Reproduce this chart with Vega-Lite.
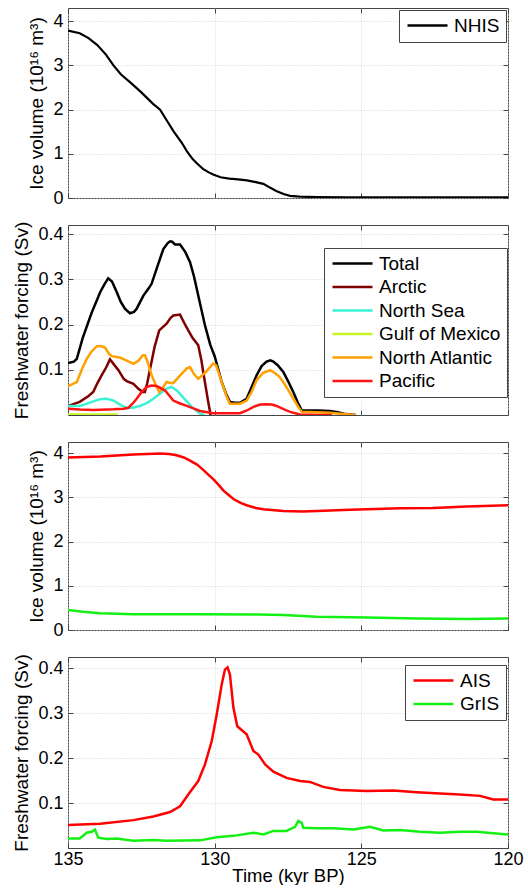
{
  "$schema": "https://vega.github.io/schema/vega-lite/v6.json",
  "background": "white",
  "padding": {"left": 12, "top": 7, "right": 0, "bottom": 0},
  "config": {
    "font": "Liberation Sans",
    "view": {"stroke": "#444", "strokeWidth": 1},
    "axis": {
      "labelFont": "Liberation Sans", "labelFontSize": 18, "labelColor": "black",
      "titleFont": "Liberation Sans", "titleFontSize": 19, "titleFontWeight": "normal", "titleColor": "black",
      "domain": false, "tickColor": "#444", "tickSize": -5, "labelPadding": 10,
      "gridColor": "#d4d4d4", "gridDash": [1, 2], "gridWidth": 1,
      "labelFlush": false, "labelOverlap": false, "titlePadding": 6
    },
    "legend": {
      "title": null, "orient": "none", "fillColor": "white", "strokeColor": "#444",
      "padding": 6, "labelFont": "Liberation Sans", "labelFontSize": 19, "labelColor": "black",
      "symbolType": "M-1.4,0H6.6", "symbolSize": 100, "symbolStrokeWidth": 2.5, "labelOffset": 30,
      "rowPadding": 3.5, "cornerRadius": 0
    }
  },
  "datasets": {
    "nhis": [
      {"t": 135, "v": 3.79}, {"t": 134.6, "v": 3.73}, {"t": 134.3, "v": 3.62}, {"t": 134.0, "v": 3.46},
      {"t": 133.7, "v": 3.24}, {"t": 133.45, "v": 3.0}, {"t": 133.2, "v": 2.8}, {"t": 132.8, "v": 2.57},
      {"t": 132.5, "v": 2.39}, {"t": 132.3, "v": 2.26}, {"t": 132.1, "v": 2.13}, {"t": 131.86, "v": 2.0},
      {"t": 131.6, "v": 1.72}, {"t": 131.4, "v": 1.51}, {"t": 131.12, "v": 1.25}, {"t": 130.95, "v": 1.06},
      {"t": 130.75, "v": 0.88}, {"t": 130.6, "v": 0.78}, {"t": 130.4, "v": 0.66}, {"t": 130.2, "v": 0.58},
      {"t": 130.05, "v": 0.53}, {"t": 129.8, "v": 0.47}, {"t": 129.5, "v": 0.44}, {"t": 129.2, "v": 0.42},
      {"t": 128.9, "v": 0.40}, {"t": 128.6, "v": 0.36}, {"t": 128.34, "v": 0.32}, {"t": 128.1, "v": 0.23},
      {"t": 127.9, "v": 0.16}, {"t": 127.65, "v": 0.09}, {"t": 127.43, "v": 0.05}, {"t": 127.1, "v": 0.03},
      {"t": 126.5, "v": 0.02}, {"t": 125.5, "v": 0.015}, {"t": 124, "v": 0.012}, {"t": 122, "v": 0.012},
      {"t": 120, "v": 0.015}
    ],
    "regions": [
      {"s": "Total", "t": 135, "v": 0.115}, {"s": "Total", "t": 134.8, "v": 0.118}, {"s": "Total", "t": 134.7, "v": 0.124},
      {"s": "Total", "t": 134.5, "v": 0.17}, {"s": "Total", "t": 134.2, "v": 0.225}, {"s": "Total", "t": 133.9, "v": 0.272},
      {"s": "Total", "t": 133.75, "v": 0.29}, {"s": "Total", "t": 133.63, "v": 0.302}, {"s": "Total", "t": 133.5, "v": 0.295},
      {"s": "Total", "t": 133.34, "v": 0.272}, {"s": "Total", "t": 133.2, "v": 0.25}, {"s": "Total", "t": 133.06, "v": 0.235},
      {"s": "Total", "t": 132.89, "v": 0.225}, {"s": "Total", "t": 132.75, "v": 0.228}, {"s": "Total", "t": 132.66, "v": 0.235},
      {"s": "Total", "t": 132.43, "v": 0.264}, {"s": "Total", "t": 132.25, "v": 0.28}, {"s": "Total", "t": 132.15, "v": 0.29},
      {"s": "Total", "t": 131.98, "v": 0.323}, {"s": "Total", "t": 131.75, "v": 0.367}, {"s": "Total", "t": 131.6, "v": 0.38},
      {"s": "Total", "t": 131.52, "v": 0.384}, {"s": "Total", "t": 131.45, "v": 0.383}, {"s": "Total", "t": 131.35, "v": 0.377},
      {"s": "Total", "t": 131.18, "v": 0.377}, {"s": "Total", "t": 131.0, "v": 0.36}, {"s": "Total", "t": 130.84, "v": 0.338},
      {"s": "Total", "t": 130.7, "v": 0.305}, {"s": "Total", "t": 130.56, "v": 0.264}, {"s": "Total", "t": 130.33, "v": 0.198},
      {"s": "Total", "t": 130.15, "v": 0.155}, {"s": "Total", "t": 130.0, "v": 0.13}, {"s": "Total", "t": 129.76, "v": 0.073},
      {"s": "Total", "t": 129.6, "v": 0.045}, {"s": "Total", "t": 129.48, "v": 0.029}, {"s": "Total", "t": 129.3, "v": 0.027},
      {"s": "Total", "t": 129.14, "v": 0.027}, {"s": "Total", "t": 128.91, "v": 0.036}, {"s": "Total", "t": 128.75, "v": 0.06},
      {"s": "Total", "t": 128.57, "v": 0.088}, {"s": "Total", "t": 128.4, "v": 0.108}, {"s": "Total", "t": 128.23, "v": 0.118},
      {"s": "Total", "t": 128.1, "v": 0.121}, {"s": "Total", "t": 128.0, "v": 0.118}, {"s": "Total", "t": 127.85, "v": 0.11},
      {"s": "Total", "t": 127.66, "v": 0.095}, {"s": "Total", "t": 127.5, "v": 0.075}, {"s": "Total", "t": 127.32, "v": 0.051},
      {"s": "Total", "t": 127.15, "v": 0.025}, {"s": "Total", "t": 127.03, "v": 0.01}, {"s": "Total", "t": 126.5, "v": 0.01},
      {"s": "Total", "t": 126.07, "v": 0.009}, {"s": "Total", "t": 125.8, "v": 0.006}, {"s": "Total", "t": 125.6, "v": 0.003},
      {"s": "Total", "t": 125.2, "v": 0.0},

      {"s": "Arctic", "t": 135, "v": 0.020}, {"s": "Arctic", "t": 134.6, "v": 0.029}, {"s": "Arctic", "t": 134.3, "v": 0.042},
      {"s": "Arctic", "t": 134.14, "v": 0.051}, {"s": "Arctic", "t": 134.0, "v": 0.07}, {"s": "Arctic", "t": 133.85, "v": 0.088},
      {"s": "Arctic", "t": 133.7, "v": 0.105}, {"s": "Arctic", "t": 133.57, "v": 0.123}, {"s": "Arctic", "t": 133.45, "v": 0.113},
      {"s": "Arctic", "t": 133.28, "v": 0.099}, {"s": "Arctic", "t": 133.1, "v": 0.08}, {"s": "Arctic", "t": 133.0, "v": 0.075},
      {"s": "Arctic", "t": 132.77, "v": 0.069}, {"s": "Arctic", "t": 132.6, "v": 0.058}, {"s": "Arctic", "t": 132.45, "v": 0.051},
      {"s": "Arctic", "t": 132.38, "v": 0.051}, {"s": "Arctic", "t": 132.3, "v": 0.07}, {"s": "Arctic", "t": 132.2, "v": 0.102},
      {"s": "Arctic", "t": 132.05, "v": 0.15}, {"s": "Arctic", "t": 131.89, "v": 0.187}, {"s": "Arctic", "t": 131.64, "v": 0.202},
      {"s": "Arctic", "t": 131.5, "v": 0.215}, {"s": "Arctic", "t": 131.41, "v": 0.220}, {"s": "Arctic", "t": 131.18, "v": 0.222},
      {"s": "Arctic", "t": 131.05, "v": 0.205}, {"s": "Arctic", "t": 130.9, "v": 0.187}, {"s": "Arctic", "t": 130.75, "v": 0.17},
      {"s": "Arctic", "t": 130.56, "v": 0.154}, {"s": "Arctic", "t": 130.45, "v": 0.12}, {"s": "Arctic", "t": 130.39, "v": 0.095},
      {"s": "Arctic", "t": 130.22, "v": 0.029}, {"s": "Arctic", "t": 130.14, "v": 0.0},

      {"s": "North Sea", "t": 135, "v": 0.020}, {"s": "North Sea", "t": 134.6, "v": 0.020}, {"s": "North Sea", "t": 134.4, "v": 0.024},
      {"s": "North Sea", "t": 134.14, "v": 0.030}, {"s": "North Sea", "t": 133.9, "v": 0.035}, {"s": "North Sea", "t": 133.68, "v": 0.036},
      {"s": "North Sea", "t": 133.5, "v": 0.033}, {"s": "North Sea", "t": 133.4, "v": 0.030}, {"s": "North Sea", "t": 133.2, "v": 0.022},
      {"s": "North Sea", "t": 133.0, "v": 0.016}, {"s": "North Sea", "t": 132.8, "v": 0.016}, {"s": "North Sea", "t": 132.55, "v": 0.020},
      {"s": "North Sea", "t": 132.3, "v": 0.027}, {"s": "North Sea", "t": 132.09, "v": 0.036}, {"s": "North Sea", "t": 131.85, "v": 0.048},
      {"s": "North Sea", "t": 131.64, "v": 0.058}, {"s": "North Sea", "t": 131.47, "v": 0.062}, {"s": "North Sea", "t": 131.3, "v": 0.055},
      {"s": "North Sea", "t": 131.13, "v": 0.043}, {"s": "North Sea", "t": 130.95, "v": 0.03}, {"s": "North Sea", "t": 130.78, "v": 0.018},
      {"s": "North Sea", "t": 130.6, "v": 0.008}, {"s": "North Sea", "t": 130.5, "v": 0.003}, {"s": "North Sea", "t": 130.35, "v": 0.0},

      {"s": "Gulf of Mexico", "t": 135, "v": 0.001}, {"s": "Gulf of Mexico", "t": 134.2, "v": 0.001}, {"s": "Gulf of Mexico", "t": 133.3, "v": 0.001},

      {"s": "North Atlantic", "t": 135, "v": 0.064}, {"s": "North Atlantic", "t": 134.85, "v": 0.068}, {"s": "North Atlantic", "t": 134.7, "v": 0.073},
      {"s": "North Atlantic", "t": 134.5, "v": 0.105}, {"s": "North Atlantic", "t": 134.36, "v": 0.124}, {"s": "North Atlantic", "t": 134.2, "v": 0.14},
      {"s": "North Atlantic", "t": 134.02, "v": 0.152}, {"s": "North Atlantic", "t": 133.85, "v": 0.152}, {"s": "North Atlantic", "t": 133.74, "v": 0.149},
      {"s": "North Atlantic", "t": 133.6, "v": 0.135}, {"s": "North Atlantic", "t": 133.51, "v": 0.130}, {"s": "North Atlantic", "t": 133.23, "v": 0.127},
      {"s": "North Atlantic", "t": 133.0, "v": 0.12}, {"s": "North Atlantic", "t": 132.77, "v": 0.113}, {"s": "North Atlantic", "t": 132.6, "v": 0.12},
      {"s": "North Atlantic", "t": 132.45, "v": 0.132}, {"s": "North Atlantic", "t": 132.38, "v": 0.132}, {"s": "North Atlantic", "t": 132.3, "v": 0.12},
      {"s": "North Atlantic", "t": 132.15, "v": 0.088}, {"s": "North Atlantic", "t": 132.0, "v": 0.065}, {"s": "North Atlantic", "t": 131.89, "v": 0.051},
      {"s": "North Atlantic", "t": 131.75, "v": 0.062}, {"s": "North Atlantic", "t": 131.64, "v": 0.073}, {"s": "North Atlantic", "t": 131.5, "v": 0.071},
      {"s": "North Atlantic", "t": 131.41, "v": 0.071}, {"s": "North Atlantic", "t": 131.25, "v": 0.082}, {"s": "North Atlantic", "t": 131.13, "v": 0.091},
      {"s": "North Atlantic", "t": 130.95, "v": 0.103}, {"s": "North Atlantic", "t": 130.84, "v": 0.106}, {"s": "North Atlantic", "t": 130.7, "v": 0.09},
      {"s": "North Atlantic", "t": 130.56, "v": 0.080}, {"s": "North Atlantic", "t": 130.3, "v": 0.095}, {"s": "North Atlantic", "t": 130.05, "v": 0.114},
      {"s": "North Atlantic", "t": 129.95, "v": 0.11}, {"s": "North Atlantic", "t": 129.76, "v": 0.073}, {"s": "North Atlantic", "t": 129.6, "v": 0.042},
      {"s": "North Atlantic", "t": 129.48, "v": 0.025}, {"s": "North Atlantic", "t": 129.14, "v": 0.025}, {"s": "North Atlantic", "t": 128.91, "v": 0.032},
      {"s": "North Atlantic", "t": 128.75, "v": 0.05}, {"s": "North Atlantic", "t": 128.57, "v": 0.077}, {"s": "North Atlantic", "t": 128.35, "v": 0.093},
      {"s": "North Atlantic", "t": 128.11, "v": 0.099}, {"s": "North Atlantic", "t": 127.95, "v": 0.093}, {"s": "North Atlantic", "t": 127.8, "v": 0.085},
      {"s": "North Atlantic", "t": 127.66, "v": 0.073}, {"s": "North Atlantic", "t": 127.5, "v": 0.056}, {"s": "North Atlantic", "t": 127.32, "v": 0.036},
      {"s": "North Atlantic", "t": 127.15, "v": 0.018}, {"s": "North Atlantic", "t": 127.03, "v": 0.007}, {"s": "North Atlantic", "t": 126.07, "v": 0.005},
      {"s": "North Atlantic", "t": 125.6, "v": 0.002}, {"s": "North Atlantic", "t": 125.2, "v": 0.0},

      {"s": "Pacific", "t": 135, "v": 0.014}, {"s": "Pacific", "t": 134.6, "v": 0.012}, {"s": "Pacific", "t": 134.14, "v": 0.011},
      {"s": "Pacific", "t": 133.45, "v": 0.0125}, {"s": "Pacific", "t": 133.1, "v": 0.014}, {"s": "Pacific", "t": 132.94, "v": 0.016},
      {"s": "Pacific", "t": 132.8, "v": 0.025}, {"s": "Pacific", "t": 132.66, "v": 0.036}, {"s": "Pacific", "t": 132.5, "v": 0.05},
      {"s": "Pacific", "t": 132.32, "v": 0.062}, {"s": "Pacific", "t": 132.15, "v": 0.065}, {"s": "Pacific", "t": 131.98, "v": 0.064},
      {"s": "Pacific", "t": 131.85, "v": 0.06}, {"s": "Pacific", "t": 131.69, "v": 0.054}, {"s": "Pacific", "t": 131.55, "v": 0.043},
      {"s": "Pacific", "t": 131.41, "v": 0.032}, {"s": "Pacific", "t": 131.2, "v": 0.026}, {"s": "Pacific", "t": 130.95, "v": 0.020},
      {"s": "Pacific", "t": 130.7, "v": 0.014}, {"s": "Pacific", "t": 130.5, "v": 0.009}, {"s": "Pacific", "t": 130.25, "v": 0.006},
      {"s": "Pacific", "t": 130.05, "v": 0.004}, {"s": "Pacific", "t": 129.6, "v": 0.004}, {"s": "Pacific", "t": 129.14, "v": 0.004},
      {"s": "Pacific", "t": 128.9, "v": 0.01}, {"s": "Pacific", "t": 128.68, "v": 0.018}, {"s": "Pacific", "t": 128.45, "v": 0.023},
      {"s": "Pacific", "t": 128.23, "v": 0.024}, {"s": "Pacific", "t": 128.05, "v": 0.023}, {"s": "Pacific", "t": 127.89, "v": 0.020},
      {"s": "Pacific", "t": 127.65, "v": 0.013}, {"s": "Pacific", "t": 127.43, "v": 0.007}, {"s": "Pacific", "t": 127.09, "v": 0.001},
      {"s": "Pacific", "t": 126.5, "v": 0.0}, {"s": "Pacific", "t": 126.0, "v": 0.0}
    ],
    "icevol": [
      {"s": "AIS", "t": 135, "v": 3.90}, {"s": "AIS", "t": 133.9, "v": 3.92}, {"s": "AIS", "t": 132.77, "v": 3.97},
      {"s": "AIS", "t": 131.86, "v": 3.99}, {"s": "AIS", "t": 131.55, "v": 3.98}, {"s": "AIS", "t": 131.3, "v": 3.95},
      {"s": "AIS", "t": 131.05, "v": 3.9}, {"s": "AIS", "t": 130.84, "v": 3.83}, {"s": "AIS", "t": 130.6, "v": 3.74},
      {"s": "AIS", "t": 130.39, "v": 3.62}, {"s": "AIS", "t": 130.2, "v": 3.5}, {"s": "AIS", "t": 130.05, "v": 3.41},
      {"s": "AIS", "t": 129.85, "v": 3.27}, {"s": "AIS", "t": 129.7, "v": 3.15}, {"s": "AIS", "t": 129.5, "v": 3.04},
      {"s": "AIS", "t": 129.36, "v": 2.96}, {"s": "AIS", "t": 129.1, "v": 2.87}, {"s": "AIS", "t": 128.91, "v": 2.82},
      {"s": "AIS", "t": 128.6, "v": 2.76}, {"s": "AIS", "t": 128.34, "v": 2.73}, {"s": "AIS", "t": 127.66, "v": 2.69},
      {"s": "AIS", "t": 127.0, "v": 2.68}, {"s": "AIS", "t": 126.52, "v": 2.69}, {"s": "AIS", "t": 125.39, "v": 2.72},
      {"s": "AIS", "t": 124.5, "v": 2.735}, {"s": "AIS", "t": 123.68, "v": 2.75}, {"s": "AIS", "t": 122.55, "v": 2.76},
      {"s": "AIS", "t": 121.4, "v": 2.79}, {"s": "AIS", "t": 120.0, "v": 2.82},

      {"s": "GrIS", "t": 135, "v": 0.45}, {"s": "GrIS", "t": 134.5, "v": 0.41}, {"s": "GrIS", "t": 133.9, "v": 0.38},
      {"s": "GrIS", "t": 132.77, "v": 0.355}, {"s": "GrIS", "t": 130.5, "v": 0.355}, {"s": "GrIS", "t": 128.5, "v": 0.35},
      {"s": "GrIS", "t": 127.66, "v": 0.34}, {"s": "GrIS", "t": 126.52, "v": 0.30}, {"s": "GrIS", "t": 124.8, "v": 0.28},
      {"s": "GrIS", "t": 123.1, "v": 0.26}, {"s": "GrIS", "t": 121.4, "v": 0.25}, {"s": "GrIS", "t": 120.0, "v": 0.26}
    ],
    "fw": [
      {"s": "AIS", "t": 135, "v": 0.051}, {"s": "AIS", "t": 133.9, "v": 0.054}, {"s": "AIS", "t": 132.77, "v": 0.062},
      {"s": "AIS", "t": 132.09, "v": 0.070}, {"s": "AIS", "t": 131.52, "v": 0.080}, {"s": "AIS", "t": 131.18, "v": 0.093},
      {"s": "AIS", "t": 130.9, "v": 0.119}, {"s": "AIS", "t": 130.56, "v": 0.149}, {"s": "AIS", "t": 130.33, "v": 0.186},
      {"s": "AIS", "t": 130.1, "v": 0.238}, {"s": "AIS", "t": 129.93, "v": 0.297}, {"s": "AIS", "t": 129.76, "v": 0.364},
      {"s": "AIS", "t": 129.65, "v": 0.397}, {"s": "AIS", "t": 129.56, "v": 0.402}, {"s": "AIS", "t": 129.48, "v": 0.386},
      {"s": "AIS", "t": 129.36, "v": 0.312}, {"s": "AIS", "t": 129.23, "v": 0.271}, {"s": "AIS", "t": 128.91, "v": 0.253},
      {"s": "AIS", "t": 128.68, "v": 0.216}, {"s": "AIS", "t": 128.51, "v": 0.208}, {"s": "AIS", "t": 128.28, "v": 0.186},
      {"s": "AIS", "t": 128.0, "v": 0.170}, {"s": "AIS", "t": 127.55, "v": 0.156}, {"s": "AIS", "t": 127.09, "v": 0.149},
      {"s": "AIS", "t": 126.75, "v": 0.147}, {"s": "AIS", "t": 126.3, "v": 0.136}, {"s": "AIS", "t": 125.73, "v": 0.129},
      {"s": "AIS", "t": 124.82, "v": 0.127}, {"s": "AIS", "t": 123.91, "v": 0.128}, {"s": "AIS", "t": 123.11, "v": 0.124},
      {"s": "AIS", "t": 122.32, "v": 0.121}, {"s": "AIS", "t": 121.64, "v": 0.119}, {"s": "AIS", "t": 120.95, "v": 0.116},
      {"s": "AIS", "t": 120.5, "v": 0.108}, {"s": "AIS", "t": 120.0, "v": 0.108},

      {"s": "GrIS", "t": 135, "v": 0.021}, {"s": "GrIS", "t": 134.6, "v": 0.021}, {"s": "GrIS", "t": 134.36, "v": 0.034},
      {"s": "GrIS", "t": 134.19, "v": 0.036}, {"s": "GrIS", "t": 134.08, "v": 0.041}, {"s": "GrIS", "t": 133.97, "v": 0.023},
      {"s": "GrIS", "t": 133.68, "v": 0.020}, {"s": "GrIS", "t": 133.34, "v": 0.021}, {"s": "GrIS", "t": 132.77, "v": 0.016},
      {"s": "GrIS", "t": 132.09, "v": 0.018}, {"s": "GrIS", "t": 131.64, "v": 0.016}, {"s": "GrIS", "t": 130.5, "v": 0.017},
      {"s": "GrIS", "t": 129.93, "v": 0.024}, {"s": "GrIS", "t": 129.36, "v": 0.027}, {"s": "GrIS", "t": 128.68, "v": 0.034},
      {"s": "GrIS", "t": 128.34, "v": 0.030}, {"s": "GrIS", "t": 128.0, "v": 0.038}, {"s": "GrIS", "t": 127.55, "v": 0.038},
      {"s": "GrIS", "t": 127.26, "v": 0.047}, {"s": "GrIS", "t": 127.15, "v": 0.060}, {"s": "GrIS", "t": 127.03, "v": 0.056},
      {"s": "GrIS", "t": 126.98, "v": 0.045}, {"s": "GrIS", "t": 126.52, "v": 0.044}, {"s": "GrIS", "t": 125.95, "v": 0.044},
      {"s": "GrIS", "t": 125.27, "v": 0.041}, {"s": "GrIS", "t": 124.7, "v": 0.047}, {"s": "GrIS", "t": 124.25, "v": 0.039},
      {"s": "GrIS", "t": 123.68, "v": 0.040}, {"s": "GrIS", "t": 123.0, "v": 0.036}, {"s": "GrIS", "t": 122.32, "v": 0.034},
      {"s": "GrIS", "t": 121.64, "v": 0.036}, {"s": "GrIS", "t": 121.07, "v": 0.036}, {"s": "GrIS", "t": 120.5, "v": 0.033},
      {"s": "GrIS", "t": 120.0, "v": 0.030}
    ]
  },
  "resolve": {"scale": {"color": "independent", "y": "independent"}, "legend": {"color": "independent"}},
  "bounds": "flush",
  "spacing": 27,
  "vconcat": [
    {
      "width": 440, "height": 190,
      "resolve": {"axis": {"x": "independent", "y": "independent"}},
      "layer": [
        {
          "data": {"name": "nhis"},
          "mark": {"type": "line", "strokeWidth": 2.2, "clip": true},
          "encoding": {
            "x": {"field": "t", "type": "quantitative", "scale": {"domain": [120, 135], "reverse": true, "nice": false},
                  "axis": {"values": [135, 130, 125, 120], "labels": false, "title": null}},
            "y": {"field": "v", "type": "quantitative", "scale": {"domain": [0, 4.3], "nice": false},
                  "axis": {"values": [0, 1, 2, 3, 4], "title": "Ice volume (10¹⁶ m³)"}},
            "color": {"datum": "NHIS", "type": "nominal", "scale": {"domain": ["NHIS"], "range": ["#000000"]},
                      "legend": {"legendX": 331, "legendY": 2}}
          }
        },
        {
          "mark": {"type": "text", "text": "(a)", "fontWeight": "bold", "fontSize": 18, "align": "left", "baseline": "middle"},
          "encoding": {
            "x": {"datum": 134.86, "type": "quantitative", "axis": {"orient": "top", "values": [135, 130, 125, 120], "labels": false, "grid": false, "title": null}},
            "y": {"datum": 3.97, "type": "quantitative", "axis": {"orient": "right", "values": [0, 1, 2, 3, 4], "labels": false, "grid": false, "title": null}}
          }
        }
      ]
    },
    {
      "width": 440, "height": 190,
      "resolve": {"axis": {"x": "independent", "y": "independent"}},
      "layer": [
        {
          "data": {"name": "regions"},
          "mark": {"type": "line", "strokeWidth": 2.5, "clip": true},
          "encoding": {
            "x": {"field": "t", "type": "quantitative", "scale": {"domain": [120, 135], "reverse": true, "nice": false},
                  "axis": {"values": [135, 130, 125, 120], "labels": false, "title": null}},
            "y": {"field": "v", "type": "quantitative", "scale": {"domain": [0, 0.42], "nice": false},
                  "axis": {"values": [0.1, 0.2, 0.3, 0.4], "format": ".1f", "title": "Freshwater forcing (Sv)"}},
            "color": {"field": "s", "type": "nominal",
                      "scale": {"domain": ["Total", "Arctic", "North Sea", "Gulf of Mexico", "North Atlantic", "Pacific"],
                                "range": ["#000000", "#7f0000", "#3cf2d4", "#c8f52a", "#ffa000", "#ff1414"]},
                      "legend": {"legendX": 256, "legendY": 23}}
          }
        },
        {
          "mark": {"type": "text", "text": "(b)", "fontWeight": "bold", "fontSize": 18, "align": "left", "baseline": "middle"},
          "encoding": {
            "x": {"datum": 134.86, "type": "quantitative", "axis": {"orient": "top", "values": [135, 130, 125, 120], "labels": false, "grid": false, "title": null}},
            "y": {"datum": 0.397, "type": "quantitative", "axis": {"orient": "right", "values": [0.1, 0.2, 0.3, 0.4], "labels": false, "grid": false, "title": null}}
          }
        }
      ]
    },
    {
      "width": 440, "height": 188,
      "resolve": {"axis": {"x": "independent", "y": "independent"}},
      "layer": [
        {
          "data": {"name": "icevol"},
          "mark": {"type": "line", "strokeWidth": 2.5, "clip": true},
          "encoding": {
            "x": {"field": "t", "type": "quantitative", "scale": {"domain": [120, 135], "reverse": true, "nice": false},
                  "axis": {"values": [135, 130, 125, 120], "labels": false, "title": null}},
            "y": {"field": "v", "type": "quantitative", "scale": {"domain": [0, 4.25], "nice": false},
                  "axis": {"values": [0, 1, 2, 3, 4], "title": "Ice volume (10¹⁶ m³)"}},
            "color": {"field": "s", "type": "nominal",
                      "scale": {"domain": ["AIS", "GrIS"], "range": ["#ff0000", "#14f014"]}, "legend": null}
          }
        },
        {
          "mark": {"type": "text", "text": "(c)", "fontWeight": "bold", "fontSize": 18, "align": "left", "baseline": "middle"},
          "encoding": {
            "x": {"datum": 134.86, "type": "quantitative", "axis": {"orient": "top", "values": [135, 130, 125, 120], "labels": false, "grid": false, "title": null}},
            "y": {"datum": 4.02, "type": "quantitative", "axis": {"orient": "right", "values": [0, 1, 2, 3, 4], "labels": false, "grid": false, "title": null}}
          }
        }
      ]
    },
    {
      "width": 440, "height": 191,
      "resolve": {"axis": {"x": "independent", "y": "independent"}},
      "layer": [
        {
          "data": {"name": "fw"},
          "mark": {"type": "line", "strokeWidth": 2.5, "clip": true},
          "encoding": {
            "x": {"field": "t", "type": "quantitative", "scale": {"domain": [120, 135], "reverse": true, "nice": false},
                  "axis": {"values": [135, 130, 125, 120], "title": "Time (kyr BP)", "titleFontSize": 18.5, "labelPadding": 7, "titlePadding": -2}},
            "y": {"field": "v", "type": "quantitative", "scale": {"domain": [0, 0.425], "nice": false},
                  "axis": {"values": [0.1, 0.2, 0.3, 0.4], "format": ".1f", "title": "Freshwater forcing (Sv)"}},
            "color": {"field": "s", "type": "nominal",
                      "scale": {"domain": ["AIS", "GrIS"], "range": ["#ff0000", "#14f014"]},
                      "legend": {"legendX": 337, "legendY": 8}}
          }
        },
        {
          "mark": {"type": "text", "text": "(d)", "fontWeight": "bold", "fontSize": 18, "align": "left", "baseline": "middle"},
          "encoding": {
            "x": {"datum": 134.86, "type": "quantitative", "axis": {"orient": "top", "values": [135, 130, 125, 120], "labels": false, "grid": false, "title": null}},
            "y": {"datum": 0.393, "type": "quantitative", "axis": {"orient": "right", "values": [0.1, 0.2, 0.3, 0.4], "labels": false, "grid": false, "title": null}}
          }
        }
      ]
    }
  ]
}
